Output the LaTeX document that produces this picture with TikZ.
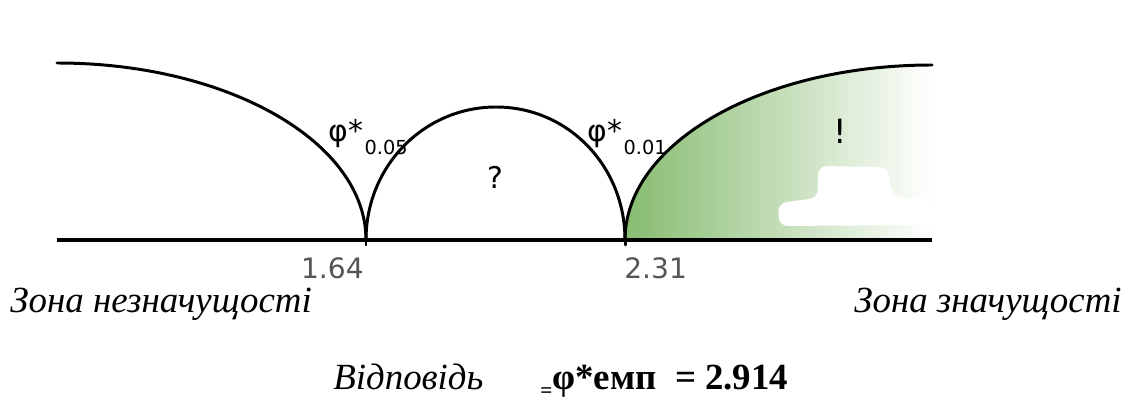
\documentclass[tikz,border=0pt]{standalone}
\usepackage{fontspec}
\setmainfont{Liberation Serif}
\newfontfamily\labelfont{DejaVu Sans}
\usepackage{xcolor}
\usetikzlibrary{positioning}
\definecolor{zonegreen}{RGB}{135,188,112}
\definecolor{numgray}{RGB}{85,85,85}

\begin{document}
\begin{tikzpicture}[
x=0.02cm, y=-0.02cm,
curve/.style={line width=1.7pt, line cap=round},
axisline/.style={line width=2.2pt},
phi/.style={font=\labelfont\fontsize{17}{17}\selectfont, inner sep=0pt},
sub/.style={font=\labelfont\fontsize{11}{11}\selectfont, inner sep=0pt},
num/.style={font=\labelfont\fontsize{16}{16}\selectfont, text=numgray, inner sep=0pt},
zone/.style={font=\itshape\fontsize{21}{21}\selectfont, inner sep=0pt},
answer/.style={font=\bfseries\fontsize{21}{21}\selectfont, inner sep=0pt}
]
\fill[white] (0,0) rectangle (1135,401);
\useasboundingbox (0,0) rectangle (1135,401);

\coordinate (L) at (57,240);
\coordinate (Ltop) at (57,63);
\coordinate (A) at (366,240);
\coordinate (Mtop) at (496,107);
\coordinate (B) at (625,240);
\coordinate (Rtop) at (932,65);
\coordinate (R) at (932,240);

% green zone
\shade[left color=zonegreen, right color=white] (B) .. controls (625,143) and (762,65) .. (Rtop) -- (R) -- cycle;
\fill[white, rounded corners=5pt] (778,203) -- (818,198) -- (818,166) -- (888,167) -- (892,196) -- (930,200) -- (930,225) -- (779,226) -- cycle;

% labels
\node[phi, anchor=base west] (phiA) at (328,142) {φ*};
\node[sub, anchor=base west] (subA) at ([shift={(1,13)}]phiA.base east) {0.05};
\node[phi, anchor=base west] (phiB) at (587,142) {φ*};
\node[sub, anchor=base west] (subB) at ([shift={(1,13)}]phiB.base east) {0.01};
\node[phi] (ask) at (495,177) {?};
\node[phi, font=\labelfont\fontsize{19}{19}\selectfont] (bang) at (840,131) {!};
\node[num, anchor=base east] (numA) at (364,279) {1.64};
\node[num, anchor=base west] (numB) at (624,279) {2.31};

% curves
\draw[curve] (Ltop) .. controls (228,63) and (366,142) .. (A);
\draw[curve] (A) .. controls (366,166) and (424,107) .. (Mtop) .. controls (568,107) and (625,166) .. (B);
\draw[curve] (B) .. controls (625,143) and (762,65) .. (Rtop);
\draw[curve] (A) -- ++(0,5);
\draw[curve] (B) -- ++(0,5);
\draw[axisline] (L) -- (R);

% zones
\node[zone, anchor=base west] (zoneL) at (10,313) {Зона незначущості};
\node[zone, anchor=base east] (zoneR) at (1122,313) {Зона значущості};
\node[zone, anchor=base west] (answ) at (333,390) {Відповідь};
\node[answer, anchor=base west] (phiemp) at (540,390) {\raisebox{-4pt}{\fontsize{12}{12}\selectfont =}φ*емп\ \ = 2.914};
\end{tikzpicture}
\end{document}
